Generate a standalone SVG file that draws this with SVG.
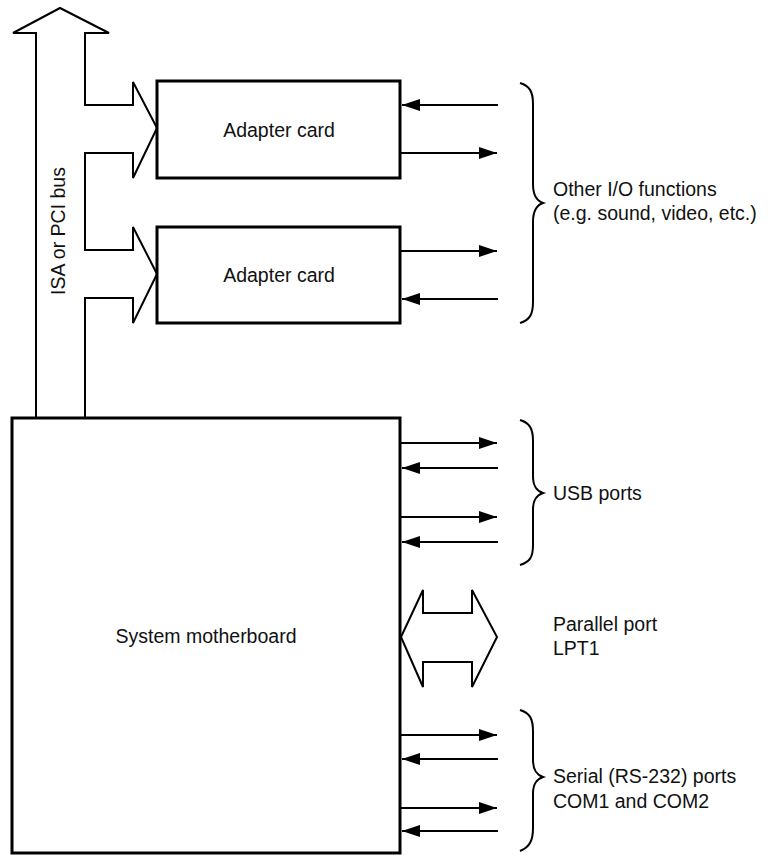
<svg xmlns="http://www.w3.org/2000/svg" width="777" height="855" viewBox="0 0 777 855">
<style>
.box{fill:#fff;stroke:#000;stroke-width:3}
.bus{fill:#fff;stroke:#000;stroke-width:2;stroke-linejoin:miter}
.ln{fill:none;stroke:#000;stroke-width:2;marker-end:url(#ah)}
.brace{fill:none;stroke:#000;stroke-width:2}
text{font-family:"Liberation Sans",Arial,sans-serif;font-size:19.5px;fill:#111}
</style>
<defs>
<marker id="ah" markerUnits="userSpaceOnUse" markerWidth="18" markerHeight="12" viewBox="0 0 18 12" refX="18" refY="6" orient="auto">
<path d="M0,0 L18,6 L0,12 z" fill="#000"/>
</marker>
</defs>
<rect width="777" height="855" fill="#fff"/>
<g id="bus">
<path class="bus" d="M36,418 L36,33 L13,33 L60,8 L109,33 L85,33 L85,105 L133,105 L133,82 L157,128 L133,178 L133,153 L85,153 L85,250 L133,250 L133,227 L157,274 L133,323 L133,298 L85,298 L85,418"/>
<text transform="translate(65,231) rotate(-90)" text-anchor="middle">ISA or PCI bus</text>
</g>
<g id="card1">
<rect class="box" x="157" y="81" width="243" height="97"/>
<text x="279" y="137" text-anchor="middle">Adapter card</text>
</g>
<g id="card2">
<rect class="box" x="157" y="227" width="243" height="96"/>
<text x="279" y="282" text-anchor="middle">Adapter card</text>
</g>
<g id="motherboard">
<rect class="box" x="12" y="418" width="388" height="435"/>
<text x="206" y="643" text-anchor="middle">System motherboard</text>
</g>
<g id="parallel">
<path class="bus" d="M401,637 L423,590 L423,613 L472,613 L472,590 L497,637 L472,687 L472,662 L423,662 L423,687 Z"/>
<text x="553" y="631">Parallel port</text>
<text x="553" y="655">LPT1</text>
</g>
<g id="other-io">
<path class="brace" d="M520,83 C530,86 533,92 533,104 L533,184 C533,196 537,201 543,203 C537,205 533,210 533,222 L533,302 C533,314 530,320 520,323"/>
<text x="553" y="196">Other I/O functions</text>
<text x="553" y="220">(e.g. sound, video, etc.)</text>
</g>
<g id="usb">
<path class="brace" d="M520,420 C530,423 533,429 533,441 L533,476 C533,487 537,491 543,493 C537,495 533,499 533,510 L533,545 C533,557 530,562 520,565"/>
<text x="553" y="500">USB ports</text>
</g>
<g id="serial">
<path class="brace" d="M520,710 C530,713 533,719 533,731 L533,760 C533,771 537,775 543,777 C537,779 533,783 533,794 L533,828 C533,840 530,847 520,851"/>
<text x="553" y="783">Serial (RS-232) ports</text>
<text x="553" y="808">COM1 and COM2</text>
</g>
<g id="connectors">
<line class="ln" x1="498" y1="105" x2="402" y2="105"/>
<line class="ln" x1="400" y1="153" x2="497" y2="153"/>
<line class="ln" x1="400" y1="251" x2="497" y2="251"/>
<line class="ln" x1="498" y1="299" x2="402" y2="299"/>
<line class="ln" x1="400" y1="443" x2="497" y2="443"/>
<line class="ln" x1="498" y1="468" x2="402" y2="468"/>
<line class="ln" x1="400" y1="517" x2="497" y2="517"/>
<line class="ln" x1="498" y1="542" x2="402" y2="542"/>
<line class="ln" x1="400" y1="735" x2="497" y2="735"/>
<line class="ln" x1="498" y1="759" x2="402" y2="759"/>
<line class="ln" x1="400" y1="808" x2="497" y2="808"/>
<line class="ln" x1="498" y1="831" x2="402" y2="831"/>
</g>
</svg>
